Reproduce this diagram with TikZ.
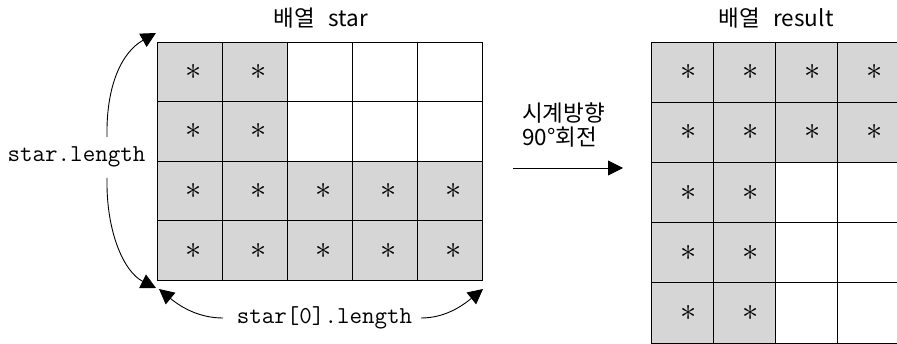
\documentclass[tikz,border=0pt]{standalone}
\usepackage{fontspec}
\newfontfamily\kr{Noto Sans CJK KR}
\usetikzlibrary{arrows.meta}
\newcommand{\cellstar}{\scalebox{1.3}{$\ast$}}
\tikzset{
  cellbox/.style={draw=black, line width=0.9pt, minimum width=65pt, minimum height=59.6pt, inner sep=0pt, font=\fontsize{24}{24}\selectfont},
  rcellbox/.style={draw=black, line width=0.9pt, minimum width=62.3pt, minimum height=60.2pt, inner sep=0pt, font=\fontsize{24}{24}\selectfont},
  filled/.style={fill=black!16},
  bigarrow/.style={line width=0.9pt, -{Triangle[length=15pt,width=15pt]}},
  monolabel/.style={font=\ttfamily\fontsize{24.3}{24.3}\selectfont, inner sep=0pt},
  krlabel/.style={font=\kr\fontsize{22.5}{24}\selectfont, inner sep=0pt},
}
\begin{document}
\begin{tikzpicture}[x=1pt, y=-1pt]
\useasboundingbox (0,0) rectangle (897,344);
\clip (0,0) rectangle (897,344);
\fill[white] (0,0) rectangle (897,344);
% left grid 4 rows x 5 cols
\foreach \r in {0,...,3}{
  \foreach \c in {0,...,4}{
    \pgfmathtruncatemacro{\sh}{(\r>1) || (\c<2) ? 1 : 0}
    \ifnum\sh=1
      \node[cellbox, filled] (L-\r-\c) at ({157.3+32.5+65*\c},{42+29.8+59.6*\r}) {\hspace{8pt}\cellstar};
    \else
      \node[cellbox] (L-\r-\c) at ({157.3+32.5+65*\c},{42+29.8+59.6*\r}) {};
    \fi
  }
}
% right grid 5 rows x 4 cols
\foreach \r in {0,...,4}{
  \foreach \c in {0,...,3}{
    \pgfmathtruncatemacro{\sh}{(\r<2) || (\c<2) ? 1 : 0}
    \ifnum\sh=1
      \node[rcellbox, filled] (R-\r-\c) at ({651+31.15+62.3*\c},{42+30.1+60.2*\r}) {\hspace{12pt}\cellstar};
    \else
      \node[rcellbox] (R-\r-\c) at ({651+31.15+62.3*\c},{42+30.1+60.2*\r}) {};
    \fi
  }
}
% titles
\node[krlabel] (t1) at (321,18) {배열\hspace{0.6em}star};
\node[krlabel] (t2) at (776,18) {배열\hspace{0.6em}result};
% labels
\node[monolabel] (len) at (76.5,157) {star.length};
\node[monolabel] (len0) at (324.5,318) {star[0].length};
\node[krlabel, align=left, anchor=west] (rot) at (522,125) {시계방향\\90°회전};
% curve end coordinates
\coordinate (a1) at (107,137);
\coordinate (a1t) at (156,33);
\coordinate (a2) at (107,178);
\coordinate (a2t) at (156,288);
\coordinate (b1) at (223,318);
\coordinate (b1t) at (159,289);
\coordinate (b2) at (421,318);
\coordinate (b2t) at (483,289);
\coordinate (m1) at (513,168);
\coordinate (m2) at (623,168);
\draw[bigarrow] (a1) .. controls (106,85) and (122,52) .. (a1t);
\draw[bigarrow] (a2) .. controls (106,232) and (124,272) .. (a2t);
\draw[bigarrow] (b1) .. controls (200,318) and (182,308) .. (b1t);
\draw[bigarrow] (b2) .. controls (445,318) and (462,306) .. (b2t);
\draw[bigarrow] (m1) -- (m2);
\end{tikzpicture}
\end{document}
